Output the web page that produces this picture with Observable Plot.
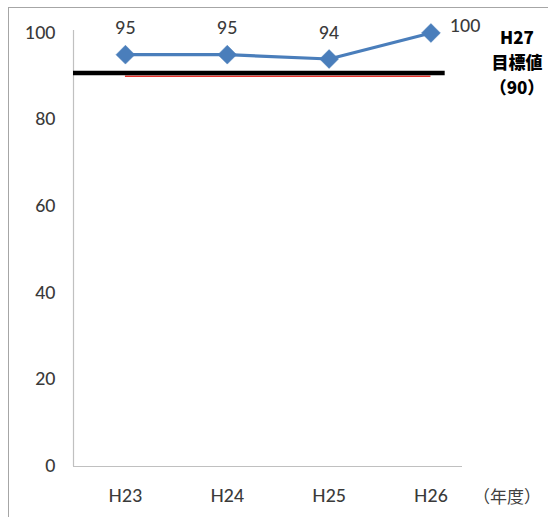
<!DOCTYPE html>
<html>
<head>
<meta charset="utf-8">
<script src="https://cdn.jsdelivr.net/npm/d3@7"></script>
<script src="https://cdn.jsdelivr.net/npm/@observablehq/plot@0.6"></script>
<style>
  html, body { margin: 0; padding: 0; background: #fff; }
  #wrap { position: relative; width: 548px; height: 517px; overflow: hidden; }
  #wrap::before {
    content: ""; position: absolute; left: 8px; top: 7px; width: 600px; height: 600px;
    border-left: 1.5px solid #a6a6a6; border-top: 1.5px solid #a6a6a6; pointer-events: none;
  }
  .note {
    position: absolute; font-family: "Noto Sans CJK JP", sans-serif; font-weight: 900;
    color: #000; font-size: 17px; text-align: center; line-height: 25px;
    left: 486px; top: 24px; width: 62px;
  }
  .unit {
    position: absolute; font-family: "Noto Sans CJK JP", sans-serif; color: #404040;
    font-size: 17px; left: 473px; top: 483px; white-space: nowrap;
  }
</style>
</head>
<body>
<div id="wrap">
  <div id="chart"></div>
  <div class="note">H27<br>目標値<br>（90）</div>
  <div class="unit">（年度）</div>
</div>
<script>
// Fiscal years and achievement rate (%)
const years = ["H23", "H24", "H25", "H26"];
const rates = [95, 95, 94, 100];
// Target for H27
const target = [90];
const yTicks = [0, 20, 40, 60, 80, 100];

const rows = years.map((year, i) => ({ i, year, rate: rates[i] }));
const last = rows.length - 1;

const font = "Lato, 'Open Sans', sans-serif";
const xLo = -0.51, xHi = 3.31;

const chart = Plot.plot({
  width: 548,
  height: 517,
  marginLeft: 73,
  marginRight: 86,
  marginTop: 32.5,
  marginBottom: 51,
  style: { fontFamily: font, background: "transparent", overflow: "visible" },
  x: { type: "linear", domain: [xLo, xHi], axis: null },
  y: { domain: [0, 100], axis: null },
  marks: [
    // axis lines
    Plot.ruleX([xLo], { y1: 0, y2: 100.6, stroke: "#c0c0c0", strokeWidth: 1.2 }),
    Plot.ruleY([0], { x1: xLo, x2: xHi, stroke: "#c0c0c0", strokeWidth: 1.2 }),
    // y tick labels
    Plot.text(yTicks, {
      x: xLo, y: d => d, text: d => String(d), textAnchor: "end", dx: -18,
      fontSize: 17.5, fill: "#3a3a3a", fontWeight: 500
    }),
    // x tick labels
    Plot.text(rows, {
      x: "i", y: 0, text: "year", dy: 30, fontSize: 17.5, fill: "#3a3a3a", fontWeight: 500
    }),
    // target lines
    Plot.ruleY(target, { x1: 0, x2: last, stroke: "#e8322b", strokeWidth: 1.5 }),
    Plot.ruleY(target, { x1: xLo, x2: 3.14, stroke: "#000", strokeWidth: 4.5, dy: -3.3 }),
    // series
    Plot.line(rows, { x: "i", y: "rate", stroke: "#4a7ebb", strokeWidth: 3.2 }),
    Plot.dot(rows, {
      x: "i", y: "rate", symbol: "diamond2", r: 8.5, fill: "#4a7ebb", stroke: "#4a7ebb", strokeWidth: 0.5
    }),
    // value labels
    Plot.text(rows.slice(0, last), {
      x: "i", y: "rate", text: d => String(d.rate), dy: -26, fontSize: 17.5, fill: "#3a3a3a", fontWeight: 500
    }),
    Plot.text(rows.slice(last), {
      x: "i", y: "rate", text: d => String(d.rate), dx: 19, dy: -7, textAnchor: "start",
      fontSize: 17.5, fill: "#3a3a3a", fontWeight: 500
    })
  ]
});

document.getElementById("chart").appendChild(chart);
</script>
</body>
</html>
